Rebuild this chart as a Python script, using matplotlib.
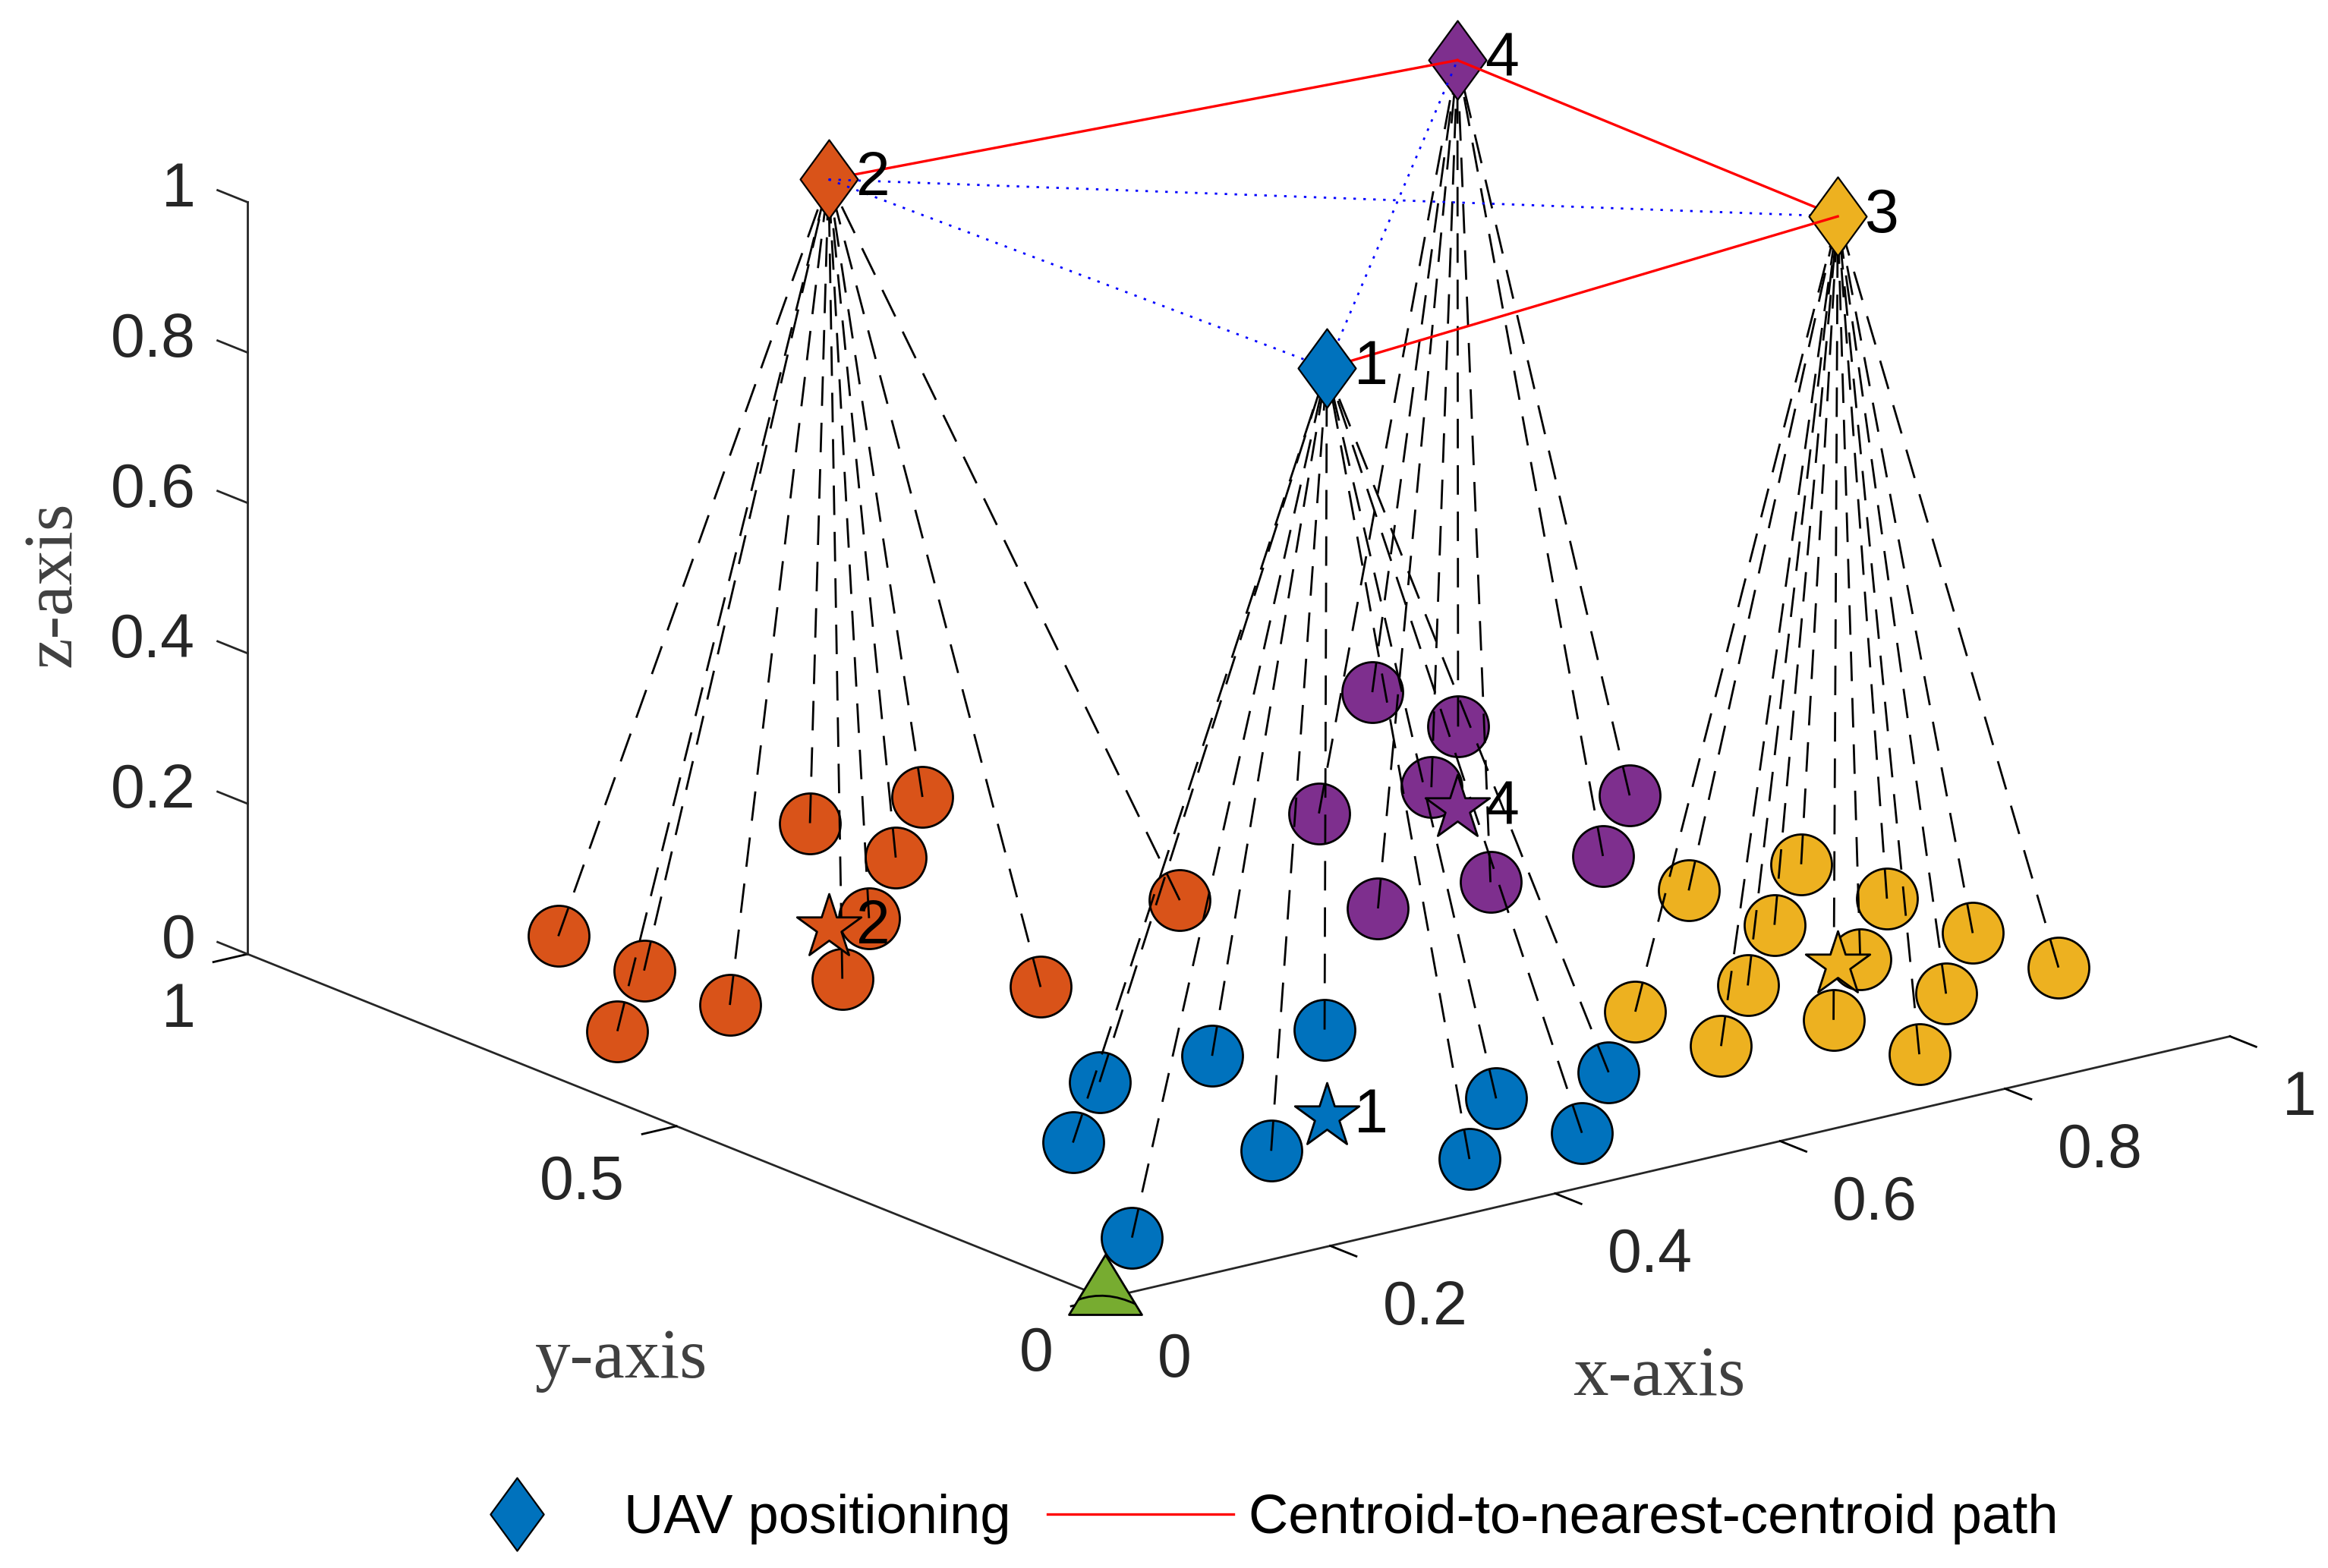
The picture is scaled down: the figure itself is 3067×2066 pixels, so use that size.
import matplotlib
matplotlib.use('Agg')
import matplotlib.pyplot as plt
from matplotlib.lines import Line2D
from matplotlib.path import Path
from mpl_toolkits.mplot3d import proj3d

plt.rcParams['font.family'] = 'Liberation Sans'
plt.rcParams['lines.scale_dashes'] = False

# users on the ground, one pair of lists per cluster
users1_x = [0.1, 0.2, 0.3, 0.4, 0.5, 0.3, 0.4, 0.5, 0.5, 0.6]
users1_y = [0.1, 0.3, 0.4, 0.4, 0.4, 0.2, 0.1, 0.2, 0.1, 0.2]
users2_x = [0.2, 0.1, 0.2, 0.2, 0.3, 0.4, 0.5, 0.5, 0.6, 0.4, 0.6]
users2_y = [0.9, 0.7, 0.8, 0.7, 0.7, 0.8, 0.9, 1.0, 1.0, 0.6, 0.7]
users3_x = [0.9, 1.0, 0.9, 1.0, 0.9, 1.0, 1.0, 0.9, 0.8, 0.8, 0.7, 0.7, 0.8]
users3_y = [0.5, 0.5, 0.4, 0.4, 0.3, 0.3, 0.2, 0.2, 0.2, 0.3, 0.2, 0.3, 0.1]
users4_x = [1.0, 1.0, 0.9, 0.8, 1.0, 0.9, 0.8, 0.7]
users4_y = [1.0, 0.9, 0.8, 0.8, 0.7, 0.6, 0.6, 0.6]

# centroids
cent_x = [0.38, 0.364, 0.88, 0.885]
cent_y = [0.24, 0.80, 0.30, 0.75]
uav_z = 0.995
labels = ['1', '2', '3', '4']
colors = ['#0072BD', '#D95319', '#EDB120', '#7E2F8E']
green = '#77AC30'

x_ticks = [0, 0.2, 0.4, 0.6, 0.8, 1]
y_ticks = [0, 0.5, 1]
z_ticks = [0, 0.2, 0.4, 0.6, 0.8, 1]
x_ticklabels = ['0', '0.2', '0.4', '0.6', '0.8', '1']
y_ticklabels = ['0', '0.5', '1']
z_ticklabels = ['0', '0.2', '0.4', '0.6', '0.8', '1']

users_x = [users1_x, users2_x, users3_x, users4_x]
users_y = [users1_y, users2_y, users3_y, users4_y]

fig = plt.figure(figsize=(15.335, 10.33), dpi=200)
S = 4000.0
L = 1642 - 0.5135 * S - 10
B = 1250 - 0.5135 * S
ax = fig.add_axes([L / 3067, B / 2066, S / 3067, S / 2066], projection='3d', computed_zorder=False)
ax.set_proj_type('ortho')
ax.view_init(elev=17.8, azim=-127.3)
ax.set_box_aspect((956, 957, 534), zoom=0.992 * 2773 / S)
ax.set_xlim(0, 1, view_margin=0)
ax.set_ylim(0, 1, view_margin=0)
ax.set_zlim(0, 1, view_margin=0)
ax.patch.set_alpha(0)


# text beside a 3d point, shifted by a fixed number of points on the page
def put_text(x, y, z, s, dx, dy, **kw):
    xs, ys, _ = proj3d.proj_transform(x, y, z, ax.get_proj())
    ax.annotate(s, xy=(xs, ys), xytext=(dx, dy), textcoords='offset points', annotation_clip=False, **kw)


# ground users and the links up to their UAV
for i in range(4):
    ax.scatter(users_x[i], users_y[i], 0, s=830, c=colors[i], edgecolors='k', linewidths=1.0,
               depthshade=False, zorder=2)
for i in range(4):
    for x, y in zip(users_x[i], users_y[i]):
        ax.plot([x, cent_x[i]], [y, cent_y[i]], [0, uav_z], color='k', lw=1.0,
                linestyle=(0, (14, 8)), zorder=3)

# centroid stars and numbers (no number shows beside star 3)
for i in range(4):
    ax.scatter(cent_x[i], cent_y[i], 0, s=1024, marker='*', c=colors[i], edgecolors='k', linewidths=1.0,
               depthshade=False, zorder=4)
    if i != 2:
        put_text(cent_x[i], cent_y[i], 0, labels[i], 13, 0, fontsize=29, color='k', va='center', ha='left', zorder=5)

# base station, arc goes right to left so it does not punch a hole in the fill
tri = Path([(-48, -21), (48, -21), (0, 58), (-48, -21), (40, -7), (0, 12), (-36, -1)],
           [Path.MOVETO, Path.LINETO, Path.LINETO, Path.CLOSEPOLY, Path.MOVETO, Path.CURVE3, Path.CURVE3])
ax.scatter([0], [0], [0], s=1745, marker=tri, c=green, edgecolors='k', linewidths=1.0, depthshade=False, zorder=6)

diamond = Path([(0, 52), (38, 0), (0, -52), (-38, 0), (0, 52)], closed=True)


def uav(i, z):
    ax.plot([cent_x[i]], [cent_y[i]], [uav_z], marker=diamond, ms=37.4, mfc=colors[i], mec='k', mew=0.8,
            zorder=z, linestyle='none')
    put_text(cent_x[i], cent_y[i], uav_z, labels[i], 13, 0, fontsize=29, color='k', va='center', ha='left', zorder=20)


def link(a, b, z, **kw):
    ax.plot([cent_x[a], cent_x[b]], [cent_y[a], cent_y[b]], [uav_z, uav_z], zorder=z, **kw)


red = dict(color='r', lw=1.2)
blue = dict(color='b', lw=1.0, linestyle=(0, (1.2, 3.5)))
uav(3, 7)
link(1, 3, 8, **red)
link(3, 2, 8, **red)
uav(1, 9)
link(1, 2, 10, **blue)
link(1, 0, 10, **blue)
link(0, 3, 10, **blue)
uav(2, 11)
link(0, 2, 12, **red)
uav(0, 13)

# axes look
tick_color = '#262626'
for axis in [ax.xaxis, ax.yaxis, ax.zaxis]:
    axis.pane.set_visible(False)
    axis.line.set_color(tick_color)
    axis.line.set_linewidth(1.0)
    axis._axinfo['tick']['inward_factor'] = 0.38
    axis._axinfo['tick']['outward_factor'] = 0.0
    axis._axinfo['tick']['linewidth'] = {True: 1.0, False: 1.0}
    axis._axinfo['tick']['color'] = tick_color
ax.zaxis._axinfo['tick']['inward_factor'] = 0.0
ax.grid(False)
ax.set_xticks(x_ticks)
ax.set_yticks(y_ticks)
ax.set_zticks(z_ticks)
ax.set_xticklabels([])
ax.set_yticklabels([])
ax.set_zticklabels([])

# z ticks point along +y in the original, mplot3d only does x here
for v in z_ticks:
    ax.plot([0, 0], [1, 1.035], [v, v], color=tick_color, lw=1.0, zorder=1)

# matlab puts the tick labels straight beside the ticks
for v, s in zip(x_ticks, x_ticklabels):
    put_text(v, 0, 0, s, 24.8, -29.7, fontsize=29, color=tick_color, ha='left', va='center')
for v, s in zip(y_ticks, y_ticklabels):
    put_text(0, v, 0, s, -24.8, -26.9, fontsize=29, color=tick_color, ha='right', va='center')
for v, s in zip(z_ticks, z_ticklabels):
    put_text(0, 1, v, s, -24.8, 5.7, fontsize=29, color=tick_color, ha='right', va='center')

label_color = '#404040'
put_text(0.5, 0, 0, 'x-axis', -4, -100, family='Liberation Serif', fontsize=33.5, color=label_color, ha='center', va='center')
put_text(0, 0.5, 0, 'y-axis', -26, -111, family='Liberation Serif', fontsize=33.5, color=label_color, ha='center', va='center')
put_text(0, 1, 0.5, 'z-axis', -92, -3, family='Liberation Serif', fontsize=33, color=label_color, ha='center', va='center',
         rotation=90)

h1 = Line2D([], [], linestyle='none', marker=diamond, ms=34.6, mfc=colors[0], mec='k', mew=0.8)
h2 = Line2D([], [], color='r', lw=1.2)
fig.legend([h1, h2], ['UAV positioning', 'Centroid-to-nearest-centroid path'], ncol=2, loc='center',
           bbox_to_anchor=(0.533, 0.031), frameon=False, fontsize=26.05, handlelength=3.38, handletextpad=0.27,
           columnspacing=0.67, borderpad=0, borderaxespad=0)

fig.savefig('out.png', dpi=200)
